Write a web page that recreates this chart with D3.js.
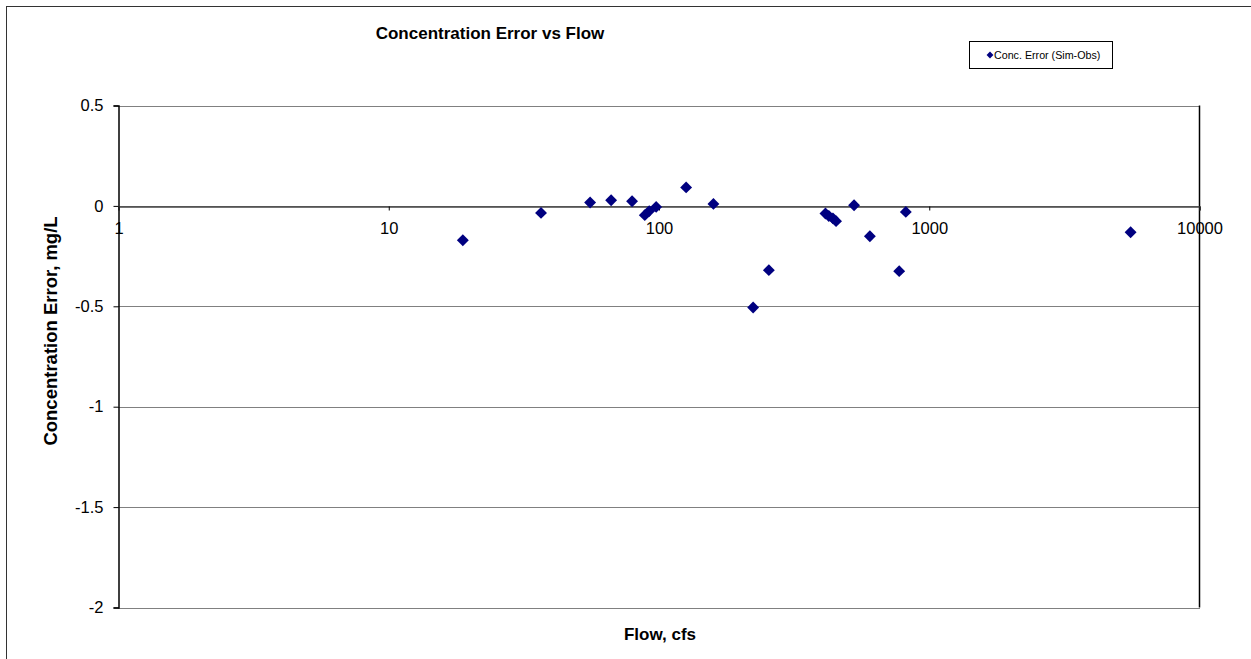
<!DOCTYPE html>
<html>
<head>
<meta charset="utf-8">
<script src="https://cdn.jsdelivr.net/npm/d3@7"></script>
<style>
  html, body { margin: 0; padding: 0; background: #fff; }
  svg { display: block; font-family: "Liberation Sans", Arial, sans-serif; }
</style>
</head>
<body>
<div id="chart"></div>
<script>
// ---- Data ----
const flow = [18.8, 36.6, 55.6, 66.5, 79.5, 88.6, 92, 97.6, 126, 159,
              223, 255, 413, 425, 440, 452, 527, 603, 774, 819, 5560];
const concError = [-0.171, -0.035, 0.017, 0.028, 0.023, -0.046, -0.026, -0.005, 0.092, 0.01,
                   -0.506, -0.32, -0.038, -0.05, -0.062, -0.076, 0.003, -0.151, -0.325, -0.03, -0.131];
const xTicks = [1, 10, 100, 1000, 10000];
const yTicks = [0.5, 0, -0.5, -1, -1.5, -2];
const seriesName = "Conc. Error (Sim-Obs)";
const titleText = "Concentration Error vs Flow";
const xLabel = "Flow, cfs";
const yLabel = "Concentration Error, mg/L";

const W = 1251, H = 659;
const plot = { left: 118.5, right: 1199.5, top: 105.5, bottom: 607.5 };
const navy = "#000080";
const FONT = "Liberation Sans, Arial, sans-serif";

const svg = d3.select("#chart").append("svg").attr("width", W).attr("height", H);

// Outer chart border (extends beyond viewport on right/bottom)
svg.append("rect").attr("x", 6.5).attr("y", 6.5).attr("width", W + 20).attr("height", H + 20)
  .attr("fill", "#fff").attr("stroke", "#333").attr("stroke-width", 1);

const x = d3.scaleLog().domain([1, 10000]).range([plot.left, plot.right]);
const y = d3.scaleLinear().domain([-2, 0.5]).range([plot.bottom, plot.top]);

// Gridlines (dotted gray)
svg.append("g").selectAll("line").data(yTicks).join("line")
  .attr("x1", plot.left).attr("x2", plot.right)
  .attr("y1", d => Math.round(y(d)) + 0.5).attr("y2", d => Math.round(y(d)) + 0.5)
  .attr("stroke", "#000").attr("stroke-width", 1).attr("stroke-dasharray", "1,1");

// Right plot border
svg.append("line").attr("x1", plot.right).attr("x2", plot.right)
  .attr("y1", plot.top).attr("y2", plot.bottom).attr("stroke", "#000").attr("stroke-width", 1.5);

// Y axis
const yAxis = d3.axisLeft(y).tickValues(yTicks).tickSize(5).tickPadding(10)
  .tickFormat(d => d3.format("")(d).replace("−", "-"));
const gy = svg.append("g").attr("transform", `translate(${plot.left},0)`).call(yAxis);
gy.select(".domain").attr("stroke", "#000").attr("stroke-width", 1.5);
gy.selectAll(".tick line").attr("stroke", "#000");
gy.selectAll(".tick text").attr("font-size", 16.5).attr("fill", "#000").attr("font-family", FONT);

// X axis crossing at y = 0
const xAxis = d3.axisBottom(x).tickValues(xTicks).tickSize(4)
  .tickFormat(d3.format("d"));
const gx = svg.append("g").attr("transform", `translate(0,${Math.round(y(0)) + 0.5})`).call(xAxis);
gx.select(".domain").attr("stroke", "#444").attr("stroke-width", 1.5);
gx.selectAll(".tick line").attr("stroke", "#000");
gx.selectAll(".tick text").attr("font-size", 16.5).attr("fill", "#000").attr("font-family", FONT)
  .attr("y", 27).attr("dy", 0);

// Points (diamonds)
const diamond = d3.symbol().type(d3.symbolDiamond2).size(90);
const pts = flow.map((f, i) => ({ f, e: concError[i] }));
svg.append("g").selectAll("path").data(pts).join("path")
  .attr("d", diamond)
  .attr("transform", d => `translate(${x(d.f)},${y(d.e)})`)
  .attr("fill", navy);

// Title
svg.append("text").attr("x", 490).attr("y", 39).attr("text-anchor", "middle")
  .attr("font-size", 17).attr("font-weight", "bold").text(titleText);

// Axis labels
svg.append("text").attr("x", 660).attr("y", 640).attr("text-anchor", "middle")
  .attr("font-size", 17).attr("font-weight", "bold").text(xLabel);
svg.append("text").attr("transform", "translate(57,331) rotate(-90)").attr("text-anchor", "middle")
  .attr("font-size", 18.5).attr("font-weight", "bold").text(yLabel);

// Legend
const lg = svg.append("g");
lg.append("rect").attr("x", 969.5).attr("y", 41.5).attr("width", 143).attr("height", 27)
  .attr("fill", "#fff").attr("stroke", "#000").attr("stroke-width", 1);
lg.append("path").attr("d", d3.symbol().type(d3.symbolDiamond2).size(30))
  .attr("transform", "translate(990,55)").attr("fill", navy);
lg.append("text").attr("x", 994).attr("y", 59).attr("font-size", 10.7).attr("fill", "#000").text(seriesName);
</script>
</body>
</html>
